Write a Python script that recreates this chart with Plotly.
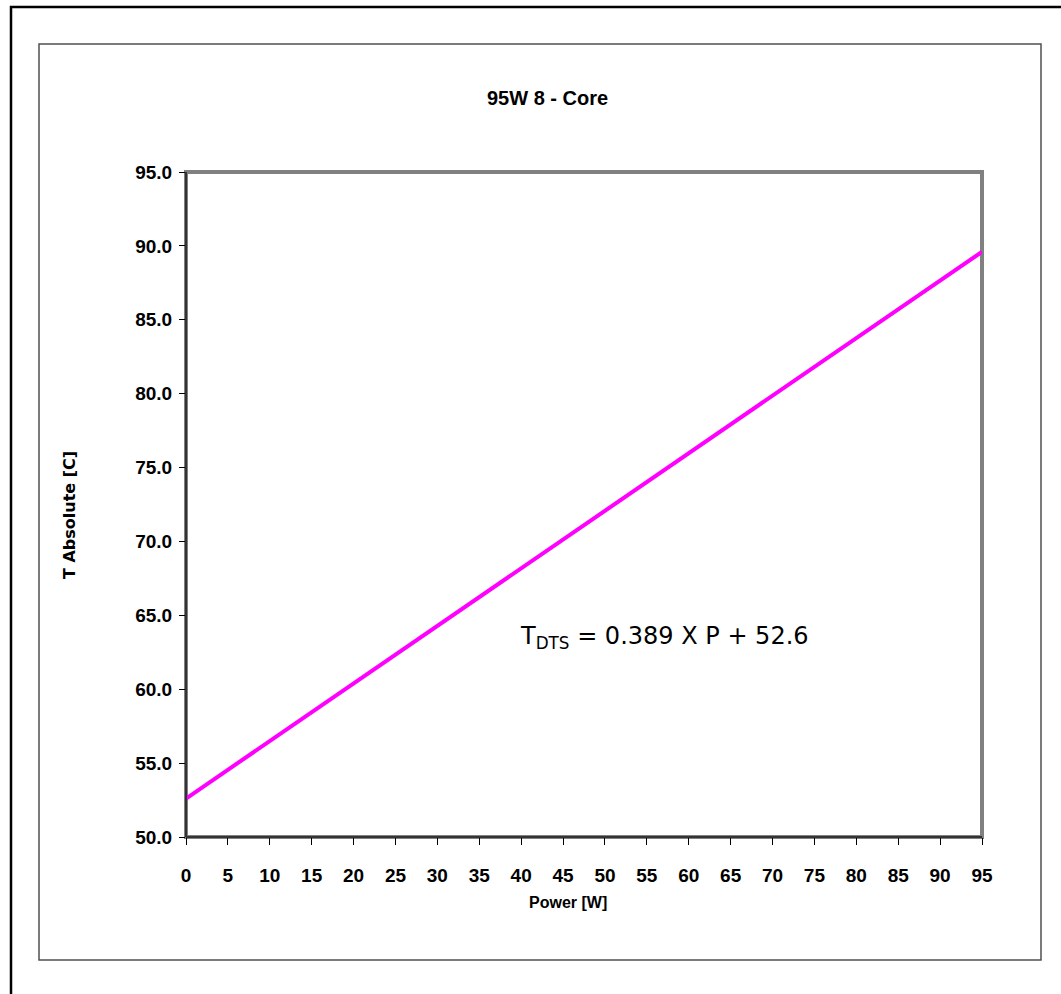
import plotly.graph_objects as go

# Data
power = [0, 95]
t_abs = [52.6, 89.6]
x_ticks = list(range(0, 100, 5))
y_ticks = [50, 55, 60, 65, 70, 75, 80, 85, 90, 95]
y_tick_labels = [f"{v:.1f}" for v in y_ticks]

W, H = 1061, 994
L, R, T, B = 186, 982, 172, 837  # plot area pixel edges


def px(x):
    return (x - L) / (R - L)


def py(y):
    return (B - y) / (B - T)


fig = go.Figure()
fig.add_trace(go.Scatter(x=power, y=t_abs, mode="lines",
                         line=dict(color="#FF00FF", width=4), showlegend=False,
                         hoverinfo="skip"))

tick_font = dict(family="Liberation Sans Narrow, Arial Narrow, Liberation Sans, Arial",
                 size=19, color="black", weight="bold")

fig.update_layout(
    width=W, height=H,
    margin=dict(l=L, r=W - R, t=T, b=H - B),
    paper_bgcolor="white", plot_bgcolor="white",
    xaxis=dict(range=[0, 95], tickvals=x_ticks, ticktext=[str(v) for v in x_ticks],
               ticks="outside", ticklen=7, tickwidth=1, tickcolor="black",
               showgrid=False, zeroline=False, showline=False,
               tickfont=tick_font, ticklabelstandoff=14),
    yaxis=dict(range=[50, 95], tickvals=y_ticks, ticktext=y_tick_labels,
               ticks="outside", ticklen=6, tickwidth=1, tickcolor="black",
               showgrid=False, zeroline=False, showline=False,
               tickfont=tick_font, ticklabelstandoff=3),
)

shapes = []
# outer black frame (left/top visible)
shapes.append(dict(type="rect", xref="paper", yref="paper",
                   x0=px(11), x1=px(1100), y0=py(1100), y1=py(7),
                   line=dict(color="black", width=2.5), layer="below"))
# inner gray frame
shapes.append(dict(type="rect", xref="paper", yref="paper",
                   x0=px(39), x1=px(1041), y0=py(960), y1=py(44),
                   line=dict(color="#505050", width=1.5), layer="below"))
# plot area border (gray)
shapes.append(dict(type="rect", xref="paper", yref="paper",
                   x0=0, x1=1, y0=0, y1=1,
                   line=dict(color="#808080", width=4), layer="below"))
# axis lines
shapes.append(dict(type="line", xref="paper", yref="paper",
                   x0=0, x1=0, y0=0, y1=1, line=dict(color="#333333", width=2)))
shapes.append(dict(type="line", xref="paper", yref="paper",
                   x0=0, x1=1, y0=0, y1=0, line=dict(color="#333333", width=2)))
fig.update_layout(shapes=shapes)

annotations = [
    dict(text="<b>95W 8 - Core</b>", xref="paper", yref="paper", x=px(547), y=py(98),
         xanchor="center", yanchor="middle", showarrow=False,
         font=dict(family="Liberation Sans Narrow, Arial Narrow, Liberation Sans, Arial",
                   size=20, color="black")),
    dict(text="<b>Power [W]</b>", xref="paper", yref="paper", x=px(568), y=py(902),
         xanchor="center", yanchor="middle", showarrow=False,
         font=dict(family="Liberation Sans Narrow, Arial Narrow, Liberation Sans, Arial",
                   size=16, color="black")),
    dict(text="<b>T Absolute [C]</b>", xref="paper", yref="paper", x=px(69), y=py(515),
         xanchor="center", yanchor="middle", showarrow=False, textangle=-90,
         font=dict(family="DejaVu Sans, Verdana", size=16, color="black")),
    dict(text="T<sub>DTS</sub> = 0.389 X P + 52.6", xref="paper", yref="paper",
         x=px(518), y=py(637), xanchor="left", yanchor="middle", showarrow=False,
         font=dict(family="DejaVu Sans, Verdana", size=24, color="black")),
]
for a in annotations:
    fig.add_annotation(**a)

fig.write_html("out.html", config={"displayModeBar": False},
               post_script="document.body.style.margin='0';")
